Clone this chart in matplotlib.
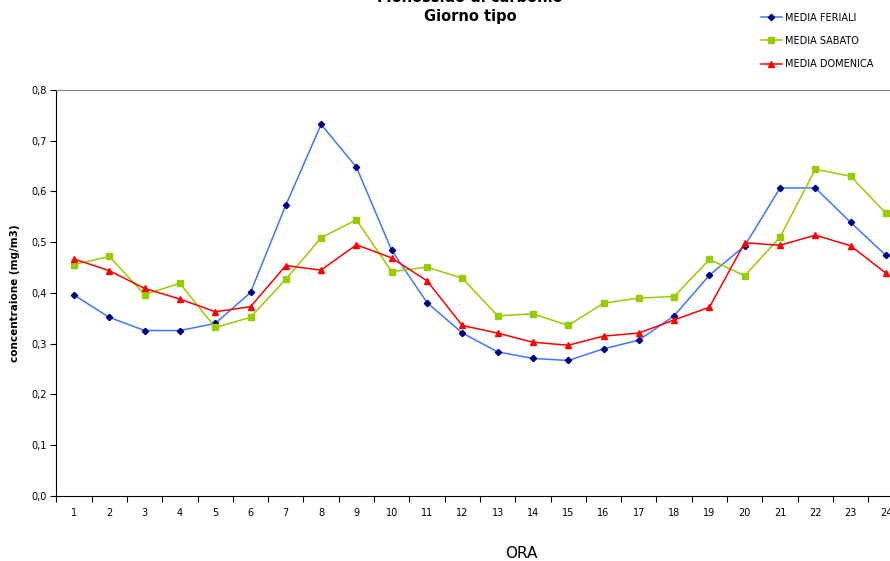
import matplotlib.pyplot as plt
from matplotlib.ticker import MultipleLocator, FuncFormatter

ore = list(range(1, 25))
feriali = [0.396, 0.352, 0.326, 0.326, 0.340, 0.401, 0.573, 0.732, 0.648, 0.484, 0.381, 0.321,
           0.284, 0.271, 0.267, 0.290, 0.307, 0.355, 0.435, 0.493, 0.607, 0.607, 0.539, 0.474]
sabato = [0.456, 0.472, 0.397, 0.419, 0.332, 0.352, 0.427, 0.509, 0.544, 0.442, 0.451, 0.429,
          0.355, 0.359, 0.336, 0.380, 0.390, 0.393, 0.466, 0.434, 0.510, 0.644, 0.630, 0.557]
domenica = [0.467, 0.444, 0.409, 0.388, 0.363, 0.373, 0.454, 0.445, 0.495, 0.469, 0.424, 0.336,
            0.321, 0.303, 0.297, 0.315, 0.321, 0.347, 0.372, 0.499, 0.494, 0.514, 0.493, 0.439]

plt.rcParams['font.family'] = ['DejaVu Sans']

fig = plt.figure(figsize=(8.9, 5.61), dpi=100)
ax = fig.add_axes([0.0633, 0.1159, 0.952, 0.7237])

ax.plot(ore, feriali, color='#3f76ff', lw=1.1, marker='D', ms=3.2,
        mfc='#000080', mec='#000080', label='MEDIA FERIALI')
ax.plot(ore, sabato, color='#99cc00', lw=1.1, marker='s', ms=4,
        mfc='#99cc00', mec='#99cc00', label='MEDIA SABATO')
ax.plot(ore, domenica, color='#ff0000', lw=1.1, marker='^', ms=4.5,
        mfc='#ff0000', mec='#ff0000', label='MEDIA DOMENICA')

ax.set_xlim(0.5, 24.5)
ax.set_ylim(0, 0.8)
ax.set_xticks(ore)
ax.xaxis.set_minor_locator(MultipleLocator(1, offset=0.5))
ax.yaxis.set_major_locator(MultipleLocator(0.1))
ax.yaxis.set_major_formatter(FuncFormatter(lambda v, p: f'{v:.1f}'.replace('.', ',')))
ax.tick_params(axis='x', which='major', length=0, labelsize=7, pad=9)
ax.tick_params(axis='x', which='minor', length=4, width=0.8, direction='out')
ax.tick_params(axis='y', length=4, width=0.8, labelsize=7, pad=3)

ax.spines['left'].set_color('black')
ax.spines['bottom'].set_color('black')
ax.spines['top'].set_color('#808080')
ax.spines['top'].set_linewidth(0.8)
ax.spines['right'].set_visible(False)

ax.set_ylabel('concentraione (mg/m3)', fontsize=7.5, fontweight='bold', labelpad=8)
fig.text(0.586, 1 - 553 / 561, 'ORA', fontsize=11, ha='center', va='center')

fig.text(0.528, 1 + 2 / 561, 'Monossido di carbonio', fontsize=10.5, fontweight='bold',
         ha='center', va='center')
fig.text(0.528, 1 - 17 / 561, 'Giorno tipo', fontsize=10.5, fontweight='bold',
         ha='center', va='center')

fig.legend(loc='upper left', bbox_to_anchor=(752 / 890, 1 - 4 / 561), frameon=False,
           fontsize=7, handlelength=2.2, handletextpad=0.3, labelspacing=1.35)

fig.savefig('out.png', dpi=100)
